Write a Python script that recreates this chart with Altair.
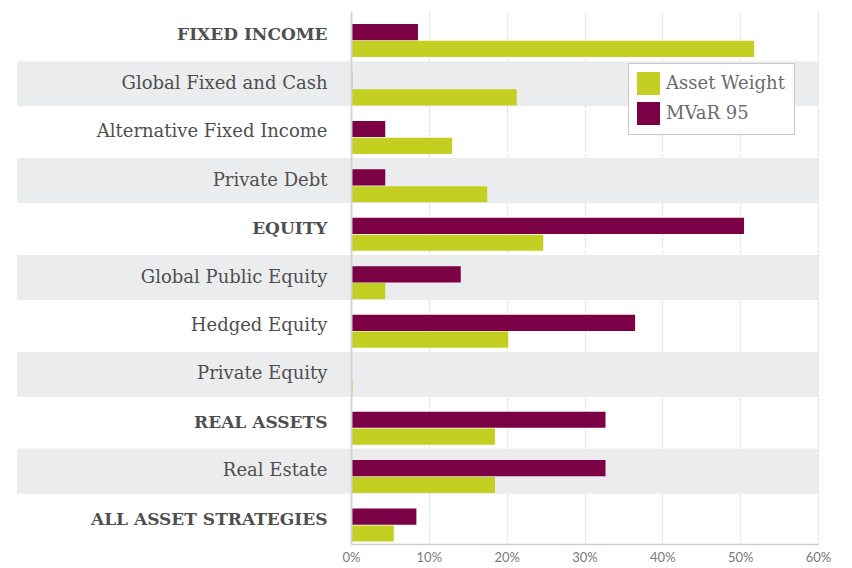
import altair as alt
import pandas as pd

categories = ["FIXED INCOME", "Global Fixed and Cash", "Alternative Fixed Income",
              "Private Debt", "EQUITY", "Global Public Equity", "Hedged Equity",
              "Private Equity", "REAL ASSETS", "Real Estate", "ALL ASSET STRATEGIES"]
headers = ["FIXED INCOME", "EQUITY", "REAL ASSETS", "ALL ASSET STRATEGIES"]
mvar95 = [8.6, 0.15, 4.4, 4.4, 50.5, 14.1, 36.5, 0.0, 32.7, 32.7, 8.4]
asset_weight = [51.8, 21.3, 13.0, 17.5, 24.7, 4.4, 20.2, 0.2, 18.5, 18.5, 5.5]
series = ["MVaR 95", "Asset Weight"]
legend_order = ["Asset Weight", "MVaR 95"]
colors = ["#c3cf21", "#7b0046"]
x_ticks = [0, 10, 20, 30, 40, 50, 60]

rows = []
for c, m, a in zip(categories, mvar95, asset_weight):
    rows.append({"cat": c, "series": "MVaR 95", "value": m})
    rows.append({"cat": c, "series": "Asset Weight", "value": a})
df = pd.DataFrame(rows)
band_df = pd.DataFrame({"cat": [c for i, c in enumerate(categories) if i % 2 == 1]})

W, H = 467, 533
SERIF = "DejaVu Serif"

yscale = alt.Scale(domain=categories, paddingInner=0, paddingOuter=0)
test = "indexof(" + str(headers) + ", datum.value) >= 0"

bands = alt.Chart(band_df).mark_bar(
    color="#ebeced", height=alt.RelativeBandSize(0.93)
).encode(
    y=alt.Y("cat:N", scale=yscale, sort=categories, title=None,
            axis=alt.Axis(domain=True, domainColor="#d0d6d2", domainWidth=2,
                          ticks=False, labelPadding=24, labelFont=SERIF,
                          labelFontSize=alt.condition(test, alt.value(17), alt.value(18)),
                          labelColor="#4f4f4f", labelLimit=400, zindex=1,
                          labelFontWeight=alt.condition(test, alt.value("bold"), alt.value("normal")))),
    x=alt.value(-334),
    x2=alt.value(W),
)

bars = alt.Chart(df).mark_bar().encode(
    y=alt.Y("cat:N", scale=yscale, sort=categories, title=None),
    yOffset=alt.YOffset("series:N", sort=series,
                        scale=alt.Scale(domain=series, range=[13, 46], paddingInner=0.04)),
    x=alt.X("value:Q", scale=alt.Scale(domain=[0, 60]), title=None,
            axis=alt.Axis(values=x_ticks, labelExpr="datum.value + '%'",
                          grid=True, gridDash=[2, 2], gridColor="#d4d4d4",
                          domain=True, domainColor="#c8d0cc", domainWidth=1.5,
                          ticks=False, labelFont="Lato", labelFontSize=13,
                          labelFlush=False,
                          labelColor="#7a7a7a", labelPadding=7)),
    color=alt.Color("series:N", scale=alt.Scale(domain=legend_order, range=colors),
                    legend=alt.Legend(title=None, orient="none", legendX=277, legendY=52,
                                      fillColor="white", strokeColor="#c8c8c8",
                                      padding=9, symbolType="square", symbolSize=529,
                                      symbolStrokeWidth=0, symbolOpacity=1,
                                      labelFont=SERIF, labelFontSize=18,
                                      labelColor="#6b6b6b", rowPadding=7,
                                      labelOffset=6, labelLimit=300)),
)

chart = alt.layer(bands, bars).properties(
    width=W, height=H,
    padding={"left": 9, "top": 3, "right": 5, "bottom": 5},
).configure_view(stroke=None)

chart.save("out.html", embed_options={"renderer": "svg", "actions": False})
